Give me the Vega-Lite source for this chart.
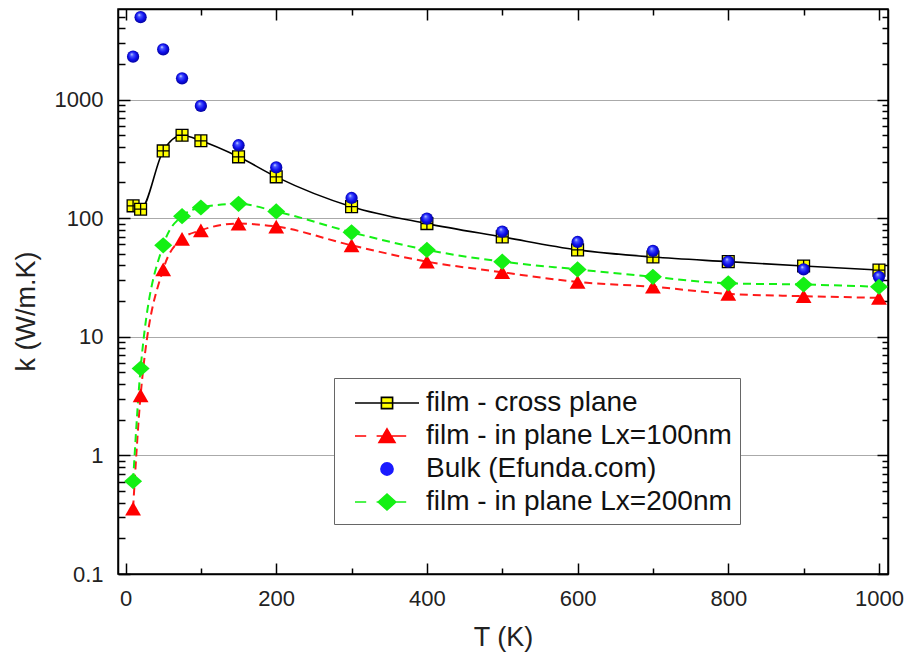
{
  "$schema": "https://vega.github.io/schema/vega-lite/v6.json",
  "width": 770,
  "height": 565,
  "autosize": {"type": "none"},
  "padding": {"left": 118, "top": 9, "right": 20, "bottom": 83},
  "background": "white",
  "config": {
    "view": {"stroke": "black", "strokeWidth": 1.5},
    "font": "Liberation Sans",
    "axis": {
      "domainColor": "black", "domainWidth": 1.5, "tickColor": "black", "tickWidth": 1.5,
      "labelFont": "Liberation Sans", "labelFontSize": 22, "labelColor": "#222",
      "titleFont": "Liberation Sans", "titleFontSize": 27, "titleFontWeight": "normal", "titleColor": "#222",
      "grid": false, "labelFlush": false, "labelOverlap": false
    }
  },
  "data": {"values": [
    {"T": 10, "k": 127, "s": "film - cross plane"},
    {"T": 20, "k": 119, "s": "film - cross plane"},
    {"T": 50, "k": 369, "s": "film - cross plane"},
    {"T": 75, "k": 500, "s": "film - cross plane"},
    {"T": 100, "k": 449, "s": "film - cross plane"},
    {"T": 150, "k": 329, "s": "film - cross plane"},
    {"T": 200, "k": 223, "s": "film - cross plane"},
    {"T": 300, "k": 125, "s": "film - cross plane"},
    {"T": 400, "k": 90, "s": "film - cross plane"},
    {"T": 500, "k": 69.5, "s": "film - cross plane"},
    {"T": 600, "k": 54, "s": "film - cross plane"},
    {"T": 700, "k": 47, "s": "film - cross plane"},
    {"T": 800, "k": 43, "s": "film - cross plane"},
    {"T": 900, "k": 39.5, "s": "film - cross plane"},
    {"T": 1000, "k": 36.5, "s": "film - cross plane"},
    {"T": 10, "k": 0.356, "s": "film - in plane Lx=100nm"},
    {"T": 20, "k": 3.2, "s": "film - in plane Lx=100nm"},
    {"T": 50, "k": 37, "s": "film - in plane Lx=100nm"},
    {"T": 75, "k": 67, "s": "film - in plane Lx=100nm"},
    {"T": 100, "k": 79, "s": "film - in plane Lx=100nm"},
    {"T": 150, "k": 90, "s": "film - in plane Lx=100nm"},
    {"T": 200, "k": 85, "s": "film - in plane Lx=100nm"},
    {"T": 300, "k": 59, "s": "film - in plane Lx=100nm"},
    {"T": 400, "k": 43, "s": "film - in plane Lx=100nm"},
    {"T": 500, "k": 35, "s": "film - in plane Lx=100nm"},
    {"T": 600, "k": 29, "s": "film - in plane Lx=100nm"},
    {"T": 700, "k": 26.4, "s": "film - in plane Lx=100nm"},
    {"T": 800, "k": 23, "s": "film - in plane Lx=100nm"},
    {"T": 900, "k": 22, "s": "film - in plane Lx=100nm"},
    {"T": 1000, "k": 21.3, "s": "film - in plane Lx=100nm"},
    {"T": 10, "k": 2300, "s": "Bulk (Efunda.com)"},
    {"T": 20, "k": 4950, "s": "Bulk (Efunda.com)"},
    {"T": 50, "k": 2650, "s": "Bulk (Efunda.com)"},
    {"T": 75, "k": 1510, "s": "Bulk (Efunda.com)"},
    {"T": 100, "k": 884, "s": "Bulk (Efunda.com)"},
    {"T": 150, "k": 412, "s": "Bulk (Efunda.com)"},
    {"T": 200, "k": 268, "s": "Bulk (Efunda.com)"},
    {"T": 300, "k": 148, "s": "Bulk (Efunda.com)"},
    {"T": 400, "k": 99, "s": "Bulk (Efunda.com)"},
    {"T": 500, "k": 77, "s": "Bulk (Efunda.com)"},
    {"T": 600, "k": 63, "s": "Bulk (Efunda.com)"},
    {"T": 700, "k": 53, "s": "Bulk (Efunda.com)"},
    {"T": 800, "k": 43, "s": "Bulk (Efunda.com)"},
    {"T": 900, "k": 37, "s": "Bulk (Efunda.com)"},
    {"T": 1000, "k": 32, "s": "Bulk (Efunda.com)"},
    {"T": 10, "k": 0.605, "s": "film - in plane Lx=200nm"},
    {"T": 20, "k": 5.4, "s": "film - in plane Lx=200nm"},
    {"T": 50, "k": 59, "s": "film - in plane Lx=200nm"},
    {"T": 75, "k": 104, "s": "film - in plane Lx=200nm"},
    {"T": 100, "k": 123, "s": "film - in plane Lx=200nm"},
    {"T": 150, "k": 132, "s": "film - in plane Lx=200nm"},
    {"T": 200, "k": 114, "s": "film - in plane Lx=200nm"},
    {"T": 300, "k": 76, "s": "film - in plane Lx=200nm"},
    {"T": 400, "k": 54, "s": "film - in plane Lx=200nm"},
    {"T": 500, "k": 43, "s": "film - in plane Lx=200nm"},
    {"T": 600, "k": 37, "s": "film - in plane Lx=200nm"},
    {"T": 700, "k": 32, "s": "film - in plane Lx=200nm"},
    {"T": 800, "k": 28.2, "s": "film - in plane Lx=200nm"},
    {"T": 900, "k": 27.6, "s": "film - in plane Lx=200nm"},
    {"T": 1000, "k": 26.4, "s": "film - in plane Lx=200nm"}
  ]},
  "layer": [
    {
      "transform": [{"filter": "datum.s === 'film - cross plane'"}],
      "mark": {"type": "line", "color": "black", "strokeWidth": 1.6, "interpolate": "monotone"},
      "encoding": {
        "x": {"field": "T", "type": "quantitative", "scale": {"domain": [-10, 1012], "nice": false, "zero": false},
              "axis": {"orient": "bottom", "values": [0, 200, 400, 600, 800, 1000], "tickSize": -11, "labelPadding": 25, "format": "d",
                       "title": "T (K)", "titleX": 385, "titleY": 63, "titleBaseline": "middle"}},
        "y": {"field": "k", "type": "quantitative", "scale": {"type": "log", "domain": [0.1, 5800], "nice": false},
              "axis": {"orient": "left", "values": [0.1, 1, 10, 100, 1000], "tickSize": -12, "labelPadding": 27, "format": "~g",
                       "grid": true, "gridColor": "#aaaaaa", "gridWidth": 1,
                       "title": "k (W/m.K)", "titleX": -92, "titleY": 302, "titleAngle": -90, "titleBaseline": "middle"}}
      }
    },
    {
      "transform": [{"filter": "datum.s === 'film - in plane Lx=100nm'"}],
      "mark": {"type": "line", "color": "#ff1a1a", "strokeWidth": 2, "strokeDash": [8, 5], "interpolate": "monotone"},
      "encoding": {
        "x": {"field": "T", "type": "quantitative", "scale": {"domain": [-10, 1012], "nice": false, "zero": false},
              "axis": {"orient": "top", "values": [0, 200, 400, 600, 800, 1000], "tickSize": -11, "labels": false, "title": null}},
        "y": {"field": "k", "type": "quantitative", "scale": {"type": "log", "domain": [0.1, 5800], "nice": false},
              "axis": {"orient": "right", "values": [0.1, 1, 10, 100, 1000], "tickSize": -11, "labels": false, "title": null}}
      }
    },
    {
      "transform": [{"filter": "datum.s === 'film - in plane Lx=200nm'"}],
      "mark": {"type": "line", "color": "#14f014", "strokeWidth": 2, "strokeDash": [8, 5], "interpolate": "monotone"},
      "encoding": {
        "x": {"field": "T", "type": "quantitative", "scale": {"domain": [-10, 1012], "nice": false, "zero": false},
              "axis": {"orient": "bottom", "values": [100, 300, 500, 700, 900], "tickSize": -6, "labels": false, "domain": false, "title": null}},
        "y": {"field": "k", "type": "quantitative", "scale": {"type": "log", "domain": [0.1, 5800], "nice": false},
              "axis": {"orient": "left", "values": [0.2, 0.3, 0.4, 0.5, 0.6, 0.7, 0.8, 0.9, 2, 3, 4, 5, 6, 7, 8, 9, 20, 30, 40, 50, 60, 70, 80, 90, 200, 300, 400, 500, 600, 700, 800, 900, 2000, 3000, 4000, 5000],
                       "tickSize": -7, "labels": false, "domain": false, "title": null}}
      }
    },
    {
      "transform": [{"filter": "datum.s === 'film - cross plane'"}],
      "mark": {"type": "point", "filled": true, "shape": "M-1,-1H1V1H-1ZM0,-1V1M-1,0H1", "size": 140, "fill": "#ffff00", "stroke": "black", "strokeWidth": 1.3, "opacity": 1},
      "encoding": {
        "x": {"field": "T", "type": "quantitative", "scale": {"domain": [-10, 1012], "nice": false, "zero": false},
              "axis": {"orient": "top", "values": [100, 300, 500, 700, 900], "tickSize": -6, "labels": false, "domain": false, "title": null}},
        "y": {"field": "k", "type": "quantitative", "scale": {"type": "log", "domain": [0.1, 5800], "nice": false},
              "axis": {"orient": "right", "values": [0.2, 0.3, 0.4, 0.5, 0.6, 0.7, 0.8, 0.9, 2, 3, 4, 5, 6, 7, 8, 9, 20, 30, 40, 50, 60, 70, 80, 90, 200, 300, 400, 500, 600, 700, 800, 900, 2000, 3000, 4000, 5000],
                       "tickSize": -6, "labels": false, "domain": false, "title": null}}
      }
    },
    {
      "transform": [{"filter": "datum.s === 'film - in plane Lx=100nm'"}],
      "mark": {"type": "point", "filled": true, "shape": "triangle-up", "size": 250, "fill": "#ff0000", "opacity": 1},
      "encoding": {
        "x": {"field": "T", "type": "quantitative", "axis": null},
        "y": {"field": "k", "type": "quantitative", "axis": null}
      }
    },
    {
      "transform": [{"filter": "datum.s === 'Bulk (Efunda.com)'"}],
      "mark": {"type": "point", "filled": true, "shape": "circle", "size": 150, "opacity": 1,
               "fill": {"gradient": "radial", "x1": 0.38, "y1": 0.3, "r1": 0, "x2": 0.5, "y2": 0.5, "r2": 0.55,
                        "stops": [{"offset": 0, "color": "#e8ecff"}, {"offset": 0.22, "color": "#4d5cff"}, {"offset": 0.6, "color": "#1010f0"}, {"offset": 1, "color": "#00008c"}]}},
      "encoding": {
        "x": {"field": "T", "type": "quantitative", "axis": null},
        "y": {"field": "k", "type": "quantitative", "axis": null}
      }
    },
    {
      "transform": [{"filter": "datum.s === 'film - in plane Lx=200nm'"}],
      "mark": {"type": "point", "filled": true, "shape": "M-1,0L0,-0.9L1,0L0,0.9Z", "size": 324, "fill": "#14f014", "opacity": 1},
      "encoding": {
        "x": {"field": "T", "type": "quantitative", "axis": null},
        "y": {"field": "k", "type": "quantitative", "axis": null}
      }
    },
    {
      "mark": {"type": "point", "filled": true, "opacity": 0},
      "encoding": {
        "x": {"field": "T", "type": "quantitative", "axis": null},
        "y": {"field": "k", "type": "quantitative", "axis": null},
        "shape": {"field": "s", "type": "nominal",
          "scale": {"domain": ["film - cross plane", "film - in plane Lx=100nm", "Bulk (Efunda.com)", "film - in plane Lx=200nm"],
                    "range": ["M-2,0H2M-0.35,-0.35H0.35V0.35H-0.35Z",
                              "M-2,0H-1.3M-0.65,0H1.2M0,-0.45L0.5,0.4H-0.5Z",
                              "M0.38,0A0.38,0.38,0,1,1,-0.38,0A0.38,0.38,0,1,1,0.38,0Z",
                              "M-2,0H-1.3M-0.65,0H1.2M-0.55,0L0,-0.5L0.55,0L0,0.5Z"]},
          "legend": {"title": null, "orient": "none", "legendX": 216, "legendY": 369, "padding": 8, "strokeColor": "#666", "fillColor": "white",
                     "symbolSize": 1024, "symbolStrokeWidth": 1.6, "symbolOpacity": 1, "symbolOffset": 28, "labelOffset": 22,
                     "labelFont": "Liberation Sans", "labelFontSize": 28, "labelColor": "#111", "rowPadding": 2, "labelLimit": 500}},
        "fill": {"field": "s", "type": "nominal",
          "scale": {"domain": ["film - cross plane", "film - in plane Lx=100nm", "Bulk (Efunda.com)", "film - in plane Lx=200nm"],
                    "range": ["#ffff00", "#ff0000", "#1a1aff", "#14f014"]},
          "legend": {"title": null, "orient": "none", "legendX": 216, "legendY": 369, "padding": 8, "strokeColor": "#666", "fillColor": "white",
                     "symbolSize": 1024, "symbolStrokeWidth": 1.6, "symbolOpacity": 1, "symbolOffset": 28, "labelOffset": 22,
                     "labelFont": "Liberation Sans", "labelFontSize": 28, "labelColor": "#111", "rowPadding": 2, "labelLimit": 500}},
        "stroke": {"field": "s", "type": "nominal",
          "scale": {"domain": ["film - cross plane", "film - in plane Lx=100nm", "Bulk (Efunda.com)", "film - in plane Lx=200nm"],
                    "range": ["black", "#ff0000", "#1a1aff", "#14f014"]},
          "legend": {"title": null, "orient": "none", "legendX": 216, "legendY": 369, "padding": 8, "strokeColor": "#666", "fillColor": "white",
                     "symbolSize": 1024, "symbolStrokeWidth": 1.6, "symbolOpacity": 1, "symbolOffset": 28, "labelOffset": 22,
                     "labelFont": "Liberation Sans", "labelFontSize": 28, "labelColor": "#111", "rowPadding": 2, "labelLimit": 500}}
      }
    }
  ],
  "resolve": {"axis": {"x": "independent", "y": "independent"}}
}
